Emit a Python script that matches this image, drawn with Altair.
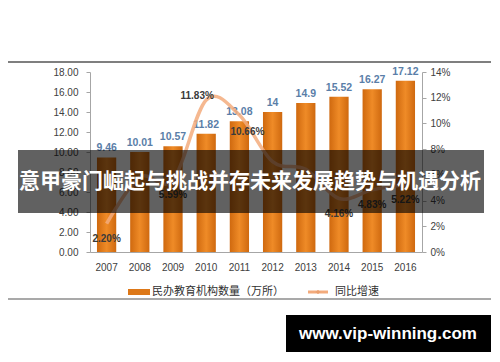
import altair as alt
import pandas as pd

# ---- data ----
years = ["2007", "2008", "2009", "2010", "2011", "2012", "2013", "2014", "2015", "2016"]
counts = [9.46, 10.01, 10.57, 11.82, 13.08, 14.0, 14.9, 15.52, 16.27, 17.12]
count_labels = ["9.46", "10.01", "10.57", "11.82", "13.08", "14", "14.9", "15.52", "16.27", "17.12"]
growth = [2.20, 5.81, 5.59, 11.83, 10.66, 7.03, 6.43, 4.16, 4.83, 5.22]
growth_labels = ["2.20%", "", "5.59%", "11.83%", "10.66%", "", "", "4.16%", "4.83%", "5.22%"]

left_ticks = [0, 2, 4, 6, 8, 10, 12, 14, 16, 18]
right_ticks = [0, 2, 4, 6, 8, 10, 12, 14]

legend_bar = "民办教育机构数量（万所）"
legend_line = "同比增速"
banner_title = "意甲豪门崛起与挑战并存未来发展趋势与机遇分析"
site_url = "www.vip-winning.com"

df = pd.DataFrame({
    "year": years,
    "count": counts,
    "count_label": count_labels,
    "growth": growth,
    "growth_label": growth_labels,
})
deco = pd.DataFrame({"k": [0]})

NUM_FONT = "Liberation Sans"
CJK_FONT = "Noto Sans CJK SC"
AX = "#A6A6A6"
LBL = "#404040"

x = alt.X(
    "year:O",
    sort=years,
    scale=alt.Scale(paddingInner=0.42, paddingOuter=0.21),
    axis=alt.Axis(title=None, labelAngle=0, ticks=False, labelPadding=10,
                  labelFont=NUM_FONT, labelFontSize=10, labelColor=LBL,
                  domainColor=AX, grid=False),
)

y_left = alt.Y(
    "count:Q",
    scale=alt.Scale(domain=[0, 18], nice=False),
    axis=alt.Axis(orient="left", title=None, values=left_ticks, format=".2f",
                  tickSize=4, tickColor=AX, domainColor=AX, labelPadding=8,
                  labelFont=NUM_FONT, labelFontSize=10, labelColor=LBL, grid=False),
)

y_right = alt.Y(
    "growth:Q",
    scale=alt.Scale(domain=[0, 14], nice=False),
    axis=alt.Axis(orient="right", title=None, values=right_ticks,
                  labelExpr="datum.value + '%'",
                  tickSize=4, tickColor=AX, domainColor=AX, labelPadding=4,
                  labelFont=NUM_FONT, labelFontSize=10, labelColor=LBL, grid=False),
)

bar_fill = alt.Gradient(
    gradient="linear",
    stops=[alt.GradientStop(color="#CF690F", offset=0),
           alt.GradientStop(color="#EF8B27", offset=0.5),
           alt.GradientStop(color="#CF690F", offset=1)],
    x1=0, x2=1, y1=0, y2=0,
)

bars = alt.Chart(df).mark_bar(color=bar_fill).encode(x=x, y=y_left)
bar_text = alt.Chart(df).mark_text(
    font=NUM_FONT, fontSize=10.5, fontWeight="bold", color="#5A7EA8",
    baseline="bottom", dy=-4,
).encode(x=x, y=y_left, text="count_label:N")

left_layer = alt.layer(bars, bar_text)

line = alt.Chart(df).mark_line(
    interpolate="cardinal", strokeWidth=3.5, color="#F3AB7C", opacity=0.85,
).encode(x=x, y=y_right)

txt_kw = dict(font=NUM_FONT, fontSize=10, fontWeight="bold", color="#3A3A3A", baseline="middle")
lt_below = alt.Chart(df).transform_filter(
    "datum.year != '2010' && datum.year != '2011' && datum.growth_label != ''"
).mark_text(dy=15, **txt_kw).encode(x=x, y=y_right, text="growth_label:N")
lt_2010 = alt.Chart(df).transform_filter("datum.year == '2010'").mark_text(
    dx=-9, dy=-4, **txt_kw).encode(x=x, y=y_right, text="growth_label:N")
lt_2011 = alt.Chart(df).transform_filter("datum.year == '2011'").mark_text(
    dx=8, dy=17, **txt_kw).encode(x=x, y=y_right, text="growth_label:N")

right_layer = alt.layer(line, lt_below, lt_2010, lt_2011)

# ---- decorations (pixel positions relative to plot origin) ----
top_rule = alt.Chart(deco).mark_rule(color="#555555", strokeWidth=1.5).encode(
    x=alt.value(-83), x2=alt.value(401), y=alt.value(-10))
bottom_rule = alt.Chart(deco).mark_rule(color="#8C8C8C", strokeWidth=1.5).encode(
    x=alt.value(-83), x2=alt.value(401), y=alt.value(227))

leg_swatch = alt.Chart(deco).mark_rect(color="#DD7818").encode(
    x=alt.value(38), x2=alt.value(60), y=alt.value(217), y2=alt.value(223))
leg_text1 = alt.Chart(deco).mark_text(
    text=legend_bar, font=CJK_FONT, fontSize=11, color="#303030",
    align="left", baseline="middle").encode(x=alt.value(62), y=alt.value(220))
leg_line = alt.Chart(deco).mark_rule(color="#F3AB7C", strokeWidth=3).encode(
    x=alt.value(218), x2=alt.value(238), y=alt.value(220))
leg_mark = alt.Chart(deco).mark_point(shape="cross", size=18, filled=True, color="#E89A68").encode(
    x=alt.value(228), y=alt.value(220))
leg_text2 = alt.Chart(deco).mark_text(
    text=legend_line, font=CJK_FONT, fontSize=11, color="#303030",
    align="left", baseline="middle").encode(x=alt.value(245), y=alt.value(220))

banner = alt.Chart(deco).mark_rect(color="black", opacity=0.62).encode(
    x=alt.value(-72), x2=alt.value(394), y=alt.value(78), y2=alt.value(141))
banner_text = alt.Chart(deco).mark_text(
    text=banner_title, font=CJK_FONT, fontSize=21, fontWeight="bold", color="white",
    align="center", baseline="middle").encode(x=alt.value(160), y=alt.value(110))

url_box = alt.Chart(deco).mark_rect(color="black").encode(
    x=alt.value(196), x2=alt.value(401), y=alt.value(243), y2=alt.value(281))
url_text = alt.Chart(deco).mark_text(
    text=site_url, font=NUM_FONT, fontSize=17, fontWeight="bold", color="white",
    align="center", baseline="middle").encode(x=alt.value(298), y=alt.value(262))

chart = alt.layer(
    alt.layer(left_layer, right_layer).resolve_scale(y="independent"),
    top_rule, bottom_rule, leg_swatch, leg_text1, leg_line, leg_mark, leg_text2,
    banner, banner_text, url_box, url_text,
).properties(
    width=332, height=180,
    padding={"left": 82, "top": 64, "right": 70, "bottom": 100},
    autosize=alt.AutoSizeParams(type="none"),
).configure_view(stroke=None).configure_axis(grid=False)

chart.save("out.html", embed_options={"renderer": "svg", "actions": False})
